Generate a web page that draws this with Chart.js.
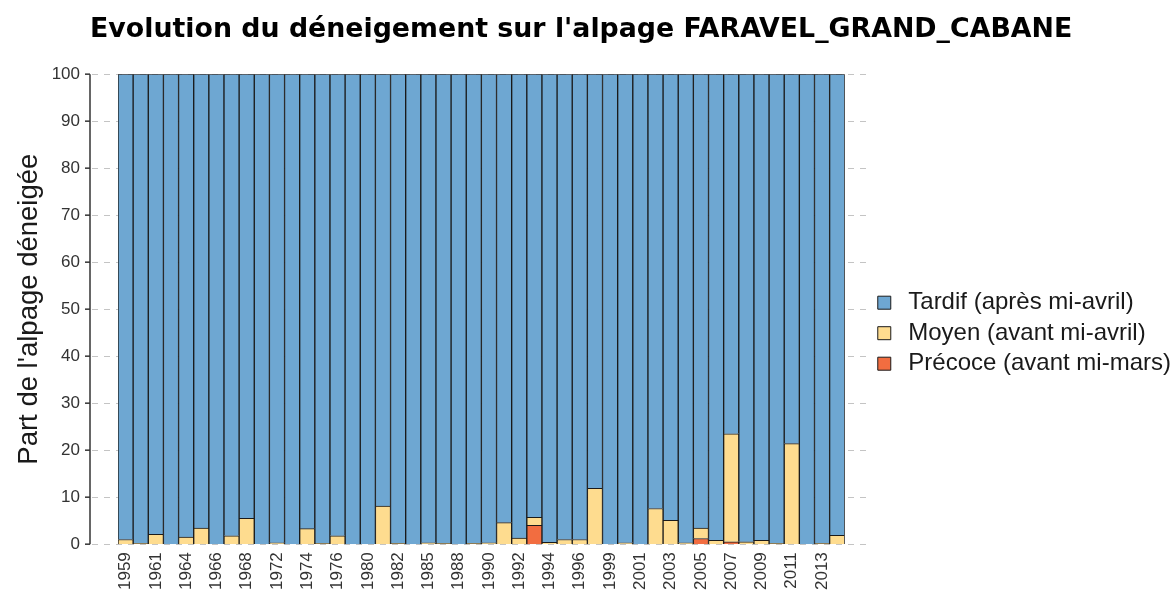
<!DOCTYPE html>
<html>
<head>
<meta charset="utf-8">
<script src="https://cdn.jsdelivr.net/npm/chart.js@4.4.1/dist/chart.umd.min.js"></script>
<style>
  html, body { margin: 0; padding: 0; background: #fff; overflow: hidden; }
  #wrap { position: relative; width: 1181px; height: 598px; }
</style>
</head>
<body>
<div id="wrap"><canvas id="myChart"></canvas></div>
<script>
    // annees (une barre par annee disponible)
    const years = ['1959', '1960', '1961', '1962', '1964', '1965', '1966', '1967', '1968', '1970',
        '1972', '1973', '1974', '1975', '1976', '1978', '1980', '1981', '1982', '1983',
        '1985', '1986', '1988', '1989', '1990', '1991', '1992', '1993', '1994', '1995',
        '1996', '1997', '1999', '2000', '2001', '2002', '2003', '2004', '2005', '2006',
        '2007', '2008', '2009', '2010', '2011', '2012', '2013', '2014'];

    const precoce = [0, 0, 0, 0, 0, 0, 0, 0, 0, 0,
        0, 0, 0, 0, 0, 0, 0, 0, 0, 0,
        0, 0, 0, 0, 0, 0, 0, 4.0, 0, 0,
        0, 0, 0, 0, 0, 0, 0, 0, 1.2, 0,
        0.5, 0, 0, 0, 0, 0, 0, 0];

    const moyen = [1.0, 0.2, 2.1, 0, 1.5, 3.4, 0, 1.8, 5.5, 0,
        0.3, 0, 3.3, 0.2, 1.8, 0, 0, 8.1, 0.2, 0,
        0.3, 0.2, 0, 0.2, 0.3, 4.6, 1.3, 1.7, 0.4, 1.0,
        1.0, 11.9, 0, 0.3, 0, 7.6, 5.1, 0.3, 2.2, 0.8,
        23.0, 0.5, 0.8, 0.2, 21.4, 0, 0.2, 1.9];

    const tardif = [99.0, 99.8, 97.9, 100, 98.5, 96.6, 100, 98.2, 94.5, 100,
        99.7, 100, 96.7, 99.8, 98.2, 100, 100, 91.9, 99.8, 100,
        99.7, 99.8, 100, 99.8, 99.7, 95.4, 98.7, 94.3, 99.6, 99.0,
        99.0, 88.1, 100, 99.7, 100, 92.4, 94.9, 99.7, 96.6, 99.2,
        76.5, 99.5, 99.2, 99.8, 78.6, 100, 99.8, 98.1];

    const yTicks = [0, 10, 20, 30, 40, 50, 60, 70, 80, 90, 100];

    const GAP_LEFT = 28
    const GAP_RIGHT = 27

    // grille pointillee + axe y facon ggplot
    const panelPlugin = {
        id: 'panel',
        beforeDatasetsDraw(chart) {
            const {ctx, chartArea, scales} = chart;
            ctx.save();
            ctx.strokeStyle = '#c4c4c4';
            ctx.lineWidth = 1;
            ctx.setLineDash([6, 6]);
            yTicks.forEach(v => {
                const y = Math.round(scales.y.getPixelForValue(v)) + 0.5;
                ctx.beginPath();
                ctx.moveTo(chartArea.left - GAP_LEFT + 2, y);
                ctx.lineTo(chartArea.right + GAP_RIGHT, y);
                ctx.stroke();
            });
            ctx.restore();
        },
        afterDraw(chart) {
            const {ctx, chartArea, scales} = chart;
            const x = chartArea.left - GAP_LEFT;
            ctx.save();
            ctx.strokeStyle = '#333';
            ctx.lineWidth = 1.5;
            ctx.beginPath();
            ctx.moveTo(x, scales.y.getPixelForValue(0));
            ctx.lineTo(x, scales.y.getPixelForValue(100));
            ctx.stroke();
            yTicks.forEach(v => {
                const y = scales.y.getPixelForValue(v);
                ctx.beginPath();
                ctx.moveTo(x - 5, y);
                ctx.lineTo(x, y);
                ctx.stroke();
            });
            ctx.restore();
        }
    };

    let ctx = document.getElementById('myChart');

    var myBarChart = new Chart(ctx, {
        type: 'bar',
        data: {
            labels: years,
            datasets: [
                {
                    label: 'Précoce (avant mi-mars)',
                    data: precoce,
                    backgroundColor: '#f26d40',
                    borderColor: '#1a1a1a',
                    borderWidth: 1
                },
                {
                    label: 'Moyen (avant mi-avril)',
                    data: moyen,
                    backgroundColor: '#fedc8f',
                    borderColor: '#1a1a1a',
                    borderWidth: 1
                },
                {
                    label: 'Tardif (après mi-avril)',
                    data: tardif,
                    backgroundColor: '#6ea7d2',
                    borderColor: '#1a1a1a',
                    borderWidth: 1
                }
            ]
        },
        options: {
            responsive: true,
            maintainAspectRatio: false,
            animation: false,
            datasets: {
                bar: { barPercentage: 1, categoryPercentage: 1 }
            },
            layout: { padding: { bottom: 0 } },
            plugins: {
                title: {
                    display: true,
                    // espaces finaux : recentre le titre (le canvas deborde a droite)
                    text: "Evolution du déneigement sur l'alpage FARAVEL_GRAND_CABANE  ",
                    color: '#000',
                    font: { family: 'DejaVu Sans', size: 26.8, weight: 'bold' },
                    padding: { top: 14, bottom: 28 }
                },
                legend: {
                    position: 'right',
                    reverse: true,
                    maxWidth: 400,
                    title: {
                        display: true,
                        text: '',
                        font: { size: 12 },
                        padding: { top: 54, bottom: 0 }
                    },
                    labels: {
                        usePointStyle: true,
                        pointStyle: 'rect',
                        boxWidth: 35,
                        boxHeight: 13,
                        padding: 6.5,
                        color: '#1a1a1a',
                        font: { family: 'Liberation Sans', size: 24 }
                    }
                },
                tooltip: { enabled: false }
            },
            scales: {
                x: {
                    stacked: true,
                    grid: { display: false, drawTicks: false },
                    border: { display: false },
                    ticks: {
                        autoSkip: false,
                        maxRotation: 90,
                        minRotation: 90,
                        padding: 8,
                        color: '#333',
                        font: { family: 'Liberation Sans', size: 17 },
                        callback: (v, i) => (i % 2 === 0 ? years[i] : '')
                    }
                },
                y: {
                    stacked: true,
                    min: 0,
                    max: 100,
                    grid: { display: false, drawTicks: false },
                    border: { display: false },
                    ticks: {
                        stepSize: 10,
                        padding: 38,
                        color: '#333',
                        font: { family: 'Liberation Sans', size: 17 }
                    },
                    title: {
                        display: true,
                        text: "Part de l'alpage déneigée",
                        color: '#1a1a1a',
                        font: { family: 'Liberation Sans', size: 27.5 },
                        padding: { top: 13, bottom: 6 }
                    },
                    afterFit: s => { s.width = 118; }
                },
                y2: {
                    type: 'linear',
                    position: 'right',
                    display: true,
                    grid: { display: false, drawTicks: false },
                    border: { display: false },
                    ticks: { display: false },
                    afterFit: s => { s.width = 21; }
                }
            }
        },
        plugins: [panelPlugin]
    });
</script>
</body>
</html>
